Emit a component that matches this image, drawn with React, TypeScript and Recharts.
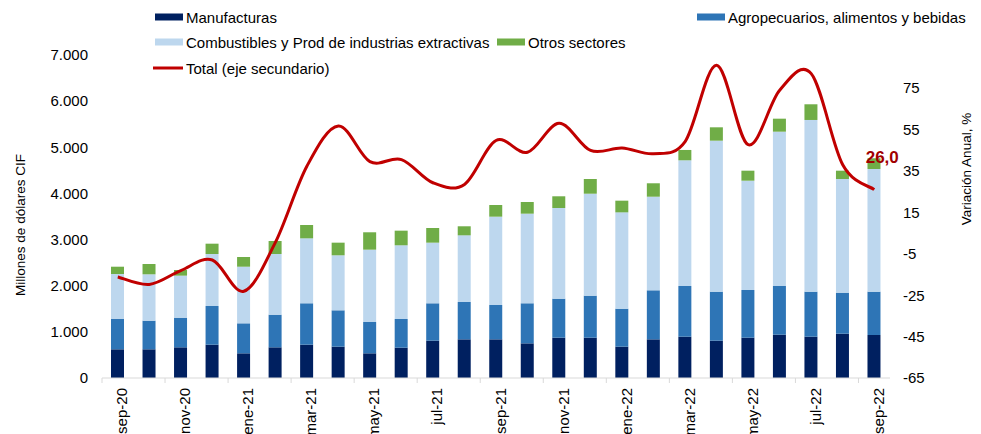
import React from "react";
import { ComposedChart, Bar, Line, XAxis, YAxis } from "recharts";

const meses = [
  "sep-20", "oct-20", "nov-20", "dic-20", "ene-21", "feb-21", "mar-21", "abr-21", "may-21",
  "jun-21", "jul-21", "ago-21", "sep-21", "oct-21", "nov-21", "dic-21", "ene-22", "feb-22",
  "mar-22", "abr-22", "may-22", "jun-22", "jul-22", "ago-22", "sep-22",
];
const manufacturas = [622, 622, 665, 722, 535, 665, 722, 679, 535, 657, 809, 838, 838, 751, 874, 874, 679, 838, 895, 809, 874, 939, 895, 960, 932];
const agropecuarios = [663, 620, 642, 838, 650, 707, 897, 788, 679, 622, 810, 809, 744, 868, 845, 910, 823, 1062, 1099, 1062, 1033, 1055, 976, 889, 939];
const combustibles = [969, 1005, 911, 1127, 1227, 1315, 1408, 1192, 1567, 1597, 1314, 1445, 1914, 1942, 1965, 2210, 2088, 2029, 2724, 3272, 2369, 3344, 3721, 2464, 2659];
const otros = [158, 223, 123, 224, 210, 282, 289, 274, 377, 317, 318, 196, 253, 253, 254, 319, 253, 291, 224, 290, 217, 282, 340, 180, 232];
const total = [-16.2, -19.8, -13.1, -8.0, -23.1, 0.5, 37.3, 56.7, 39.5, 40.5, 29.3, 28.5, 49.7, 44.0, 58.0, 44.9, 46.1, 43.3, 49.2, 86.0, 47.7, 74.0, 82.0, 38.0, 26.0];

const ticksIzq = [0, 1000, 2000, 3000, 4000, 5000, 6000, 7000];
const ticksDer = [-65, -45, -25, -5, 15, 35, 55, 75];

const data = meses.map((mes, i) => ({
  mes,
  manufacturas: manufacturas[i],
  agropecuarios: agropecuarios[i],
  combustibles: combustibles[i],
  otros: otros[i],
  total: total[i],
}));

const FONT = '"Liberation Sans", Arial, sans-serif';
const C_MAN = "#002060";
const C_AGRO = "#2E75B6";
const C_COMB = "#BDD7EE";
const C_OTROS = "#70AD47";
const C_TOTAL = "#C00000";

const W = 981;
const H = 434;
const PLOT_L = 102;
const PLOT_R = 890;
const PLOT_T = 55;
const PLOT_B = 378;

const miles = (v: number) => String(v).replace(/\B(?=(\d{3})+(?!\d))/g, ".");

// Excel-like smoothed line (Catmull-Rom through the points)
const suave: any = (context: any) => {
  let pts: number[][] = [];
  return {
    areaStart() {},
    areaEnd() {},
    lineStart() {
      pts = [];
    },
    point(x: number, y: number) {
      pts.push([+x, +y]);
    },
    lineEnd() {
      if (!pts.length) return;
      context.moveTo(pts[0][0], pts[0][1]);
      for (let i = 0; i < pts.length - 1; i++) {
        const p0 = pts[i - 1] || pts[i];
        const p1 = pts[i];
        const p2 = pts[i + 1];
        const p3 = pts[i + 2] || p2;
        context.bezierCurveTo(
          p1[0] + (p2[0] - p0[0]) / 6,
          p1[1] + (p2[1] - p0[1]) / 6,
          p2[0] - (p3[0] - p1[0]) / 6,
          p2[1] - (p3[1] - p1[1]) / 6,
          p2[0],
          p2[1]
        );
      }
    },
  };
};

const MesTick = (props: any) => {
  const { x, y, payload, index } = props;
  if (index % 2 !== 0) return <g />;
  const half = (PLOT_R - PLOT_L) / meses.length / 2;
  const tx = x + 4;
  const ty = y + 10;
  return (
    <g>
      <line x1={x - half} x2={x - half} y1={y} y2={y + 5} stroke="#D9D9D9" />
      <text
        x={tx}
        y={ty}
        transform={`rotate(-90, ${tx}, ${ty})`}
        textAnchor="end"
        dominantBaseline="central"
        fontSize={15}
        fontFamily={FONT}
        fill="#000"
      >
        {payload.value}
      </text>
    </g>
  );
};

const UltimoValor = (props: any) => {
  const { x, y, index, value } = props;
  if (index !== meses.length - 1) return <g />;
  return (
    <text
      x={x + 8}
      y={y - 32}
      textAnchor="middle"
      dominantBaseline="central"
      fontSize={17}
      fontWeight="bold"
      fontFamily={FONT}
      fill="#A00000"
    >
      {Number(value).toFixed(1).replace(".", ",")}
    </text>
  );
};

const leyenda = [
  { name: "Manufacturas", color: C_MAN, x: 155, y: 17, line: false },
  { name: "Agropecuarios, alimentos y bebidas", color: C_AGRO, x: 697, y: 17, line: false },
  { name: "Combustibles y Prod de industrias extractivas", color: C_COMB, x: 155, y: 42, line: false },
  { name: "Otros sectores", color: C_OTROS, x: 497, y: 42, line: false },
  { name: "Total (eje secundario)", color: C_TOTAL, x: 155, y: 68, line: true },
];

export default function App() {
  return (
    <div style={{ position: "absolute", left: 0, top: 0, width: W, height: H, background: "#fff" }}>
      <ComposedChart
        width={W}
        height={H}
        data={data}
        margin={{ top: PLOT_T, right: 0, bottom: 0, left: 0 }}
        style={{ fontFamily: FONT }}
      >
        <XAxis
          dataKey="mes"
          xAxisId="x"
          interval={0}
          height={H - PLOT_B}
          tickSize={0}
          tickMargin={0}
          tick={<MesTick />}
          axisLine={{ stroke: "#D9D9D9" }}
          tickLine={false}
        />
        <YAxis
          yAxisId="izq"
          orientation="left"
          width={PLOT_L}
          domain={[0, 7000]}
          ticks={ticksIzq}
          interval={0}
          tickFormatter={miles}
          tickSize={0}
          tickMargin={14}
          axisLine={false}
          tickLine={false}
          tick={{ fontSize: 15, fill: "#000", fontFamily: FONT }}
        />
        <YAxis
          yAxisId="der"
          orientation="right"
          width={W - PLOT_R}
          domain={[-65, 91]}
          allowDataOverflow
          ticks={ticksDer}
          interval={0}
          tickSize={0}
          tickMargin={13}
          axisLine={false}
          tickLine={false}
          tick={{ fontSize: 15, fill: "#000", fontFamily: FONT, textAnchor: "start" }}
        />
        <Bar xAxisId="x" yAxisId="izq" dataKey="manufacturas" stackId="a" fill={C_MAN} barSize={13} isAnimationActive={false} />
        <Bar xAxisId="x" yAxisId="izq" dataKey="agropecuarios" stackId="a" fill={C_AGRO} barSize={13} isAnimationActive={false} />
        <Bar xAxisId="x" yAxisId="izq" dataKey="combustibles" stackId="a" fill={C_COMB} barSize={13} isAnimationActive={false} />
        <Bar xAxisId="x" yAxisId="izq" dataKey="otros" stackId="a" fill={C_OTROS} barSize={13} isAnimationActive={false} />
        <Line
          xAxisId="x"
          yAxisId="der"
          dataKey="total"
          type={suave}
          stroke={C_TOTAL}
          strokeWidth={3}
          dot={false}
          activeDot={false}
          isAnimationActive={false}
          label={<UltimoValor />}
        />
      </ComposedChart>
      <svg
        width={W}
        height={H}
        style={{ position: "absolute", left: 0, top: 0, pointerEvents: "none" }}
        fontFamily={FONT}
      >
        {leyenda.map((it) =>
          <g key={it.name}>
            {it.line ? (
              <line x1={it.x - 2} x2={it.x + 28} y1={it.y} y2={it.y} stroke={it.color} strokeWidth={3} />
            ) : (
              <rect x={it.x} y={it.y - 3.5} width={28} height={7} fill={it.color} />
            )}
            <text x={it.x + 31} y={it.y} dominantBaseline="central" fontSize={15} fill="#000">
              {it.name}
            </text>
          </g>
        )}
        <text
          x={20}
          y={225}
          transform="rotate(-90, 20, 225)"
          textAnchor="middle"
          dominantBaseline="central"
          fontSize={13.5}
          fill="#000"
        >
          Millones de dólares CIF
        </text>
        <text
          x={966}
          y={169}
          transform="rotate(-90, 966, 169)"
          textAnchor="middle"
          dominantBaseline="central"
          fontSize={13.5}
          fill="#000"
        >
          Variación Anual, %
        </text>
      </svg>
    </div>
  );
}
